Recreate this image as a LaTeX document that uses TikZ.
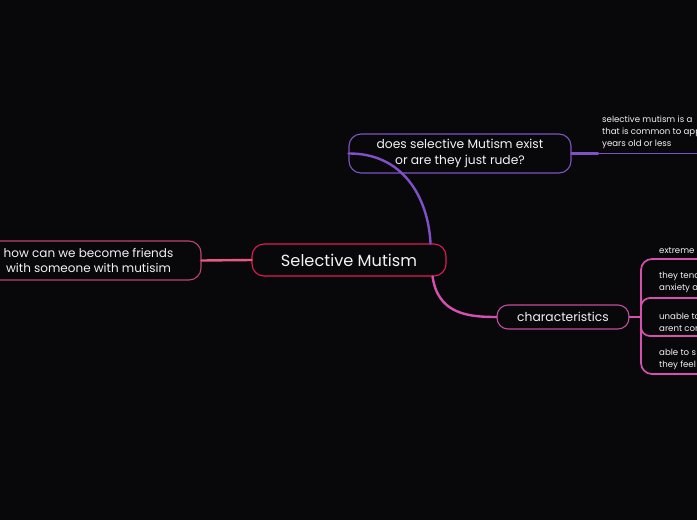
\documentclass[tikz,border=0pt]{standalone}
\usepackage{fontspec}
\setmainfont{Poppins}
\definecolor{bg}{RGB}{8,8,11}
\definecolor{crimson}{RGB}{222,28,84}
\definecolor{rosebox}{RGB}{190,68,108}
\definecolor{roseline}{RGB}{236,88,132}
\definecolor{violet}{RGB}{124,84,196}
\definecolor{violetline}{RGB}{128,80,200}
\definecolor{magbox}{RGB}{196,76,158}
\definecolor{magline}{RGB}{214,80,176}
\definecolor{txt}{RGB}{242,242,246}
\tikzset{
  topic/.style={draw, rounded corners=12pt, text=txt, align=center, inner sep=0pt, line width=1.1pt},
  leaf/.style={text=txt, align=left, inner sep=0pt, anchor=south west, font=\fontsize{8.6}{11.6}\selectfont},
  conn/.style={line width=2.4pt, line cap=round},
  thin/.style={line width=1.7pt},
}
\begin{document}
\begin{tikzpicture}[x=1pt,y=-1pt]
\fill[bg] (0,0) rectangle (697,520);
\useasboundingbox (0,0) rectangle (697,520);
\clip (0,0) rectangle (697,520);

% nodes
\node[topic, draw=crimson, minimum width=194pt, minimum height=32pt, font=\fontsize{16.2}{18}\selectfont] (central) at (349,260) {Selective Mutism};
\node[topic, draw=rosebox, minimum width=225pt, minimum height=39pt, font=\fontsize{12}{15.5}\selectfont] (friends) at (88.5,260.5) {how can we become friends\\with someone with mutisim};
\node[topic, draw=violet, minimum width=222pt, minimum height=39pt, font=\fontsize{12.3}{15.5}\selectfont] (question) at (460,153.5) {does selective Mutism exist\\or are they just rude?};
\node[topic, draw=magbox, minimum width=132pt, minimum height=24pt, rounded corners=11pt, font=\fontsize{12.3}{15}\selectfont] (char) at (563,317) {characteristics};

% leaf texts
\node[leaf] (def) at (602,148.5) {selective mutism is a\\that is common to app\\years old or less};
\node[leaf] (c1) at (659,254) {extreme};
\node[leaf] (c2) at (659,293) {they tend\\anxiety a};
\node[leaf] (c3) at (659,331.5) {unable to\\arent con};
\node[leaf] (c4) at (659,370) {able to s\\they feel};

% connector endpoints
\coordinate (qa) at (598,153.5);
\coordinate (qe) at (698,153.5);
\coordinate (cj) at (641,317);
\coordinate (e1) at (698,259);
\coordinate (e2) at (698,298);
\coordinate (e3) at (698,336);
\coordinate (e4) at (698,374);

% connectors
\draw[conn, roseline] (friends.east) -- (central.west);
\draw[conn, violetline] (central.north east) ++(-16,0) coordinate (cq)
  (question.west) .. controls (402,153) and (428,196) .. (cq);
\draw[conn, magline] (central.south east) ++(-14,0) coordinate (cc)
  (cc) .. controls (438,314) and (468,317) .. (char.west);
\draw[conn, violetline] (question.east) -- (qa);
\draw[thin, violetline] (qa) -- (qe);
\draw[conn, magline] (char.east) -- (cj);
\draw[thin, magline, rounded corners=11pt] (cj) |- (e1);
\draw[thin, magline, rounded corners=9pt] (cj) |- (e2);
\draw[thin, magline, rounded corners=9pt] (cj) |- (e3);
\draw[thin, magline, rounded corners=11pt] (cj) |- (e4);
\end{tikzpicture}
\end{document}
